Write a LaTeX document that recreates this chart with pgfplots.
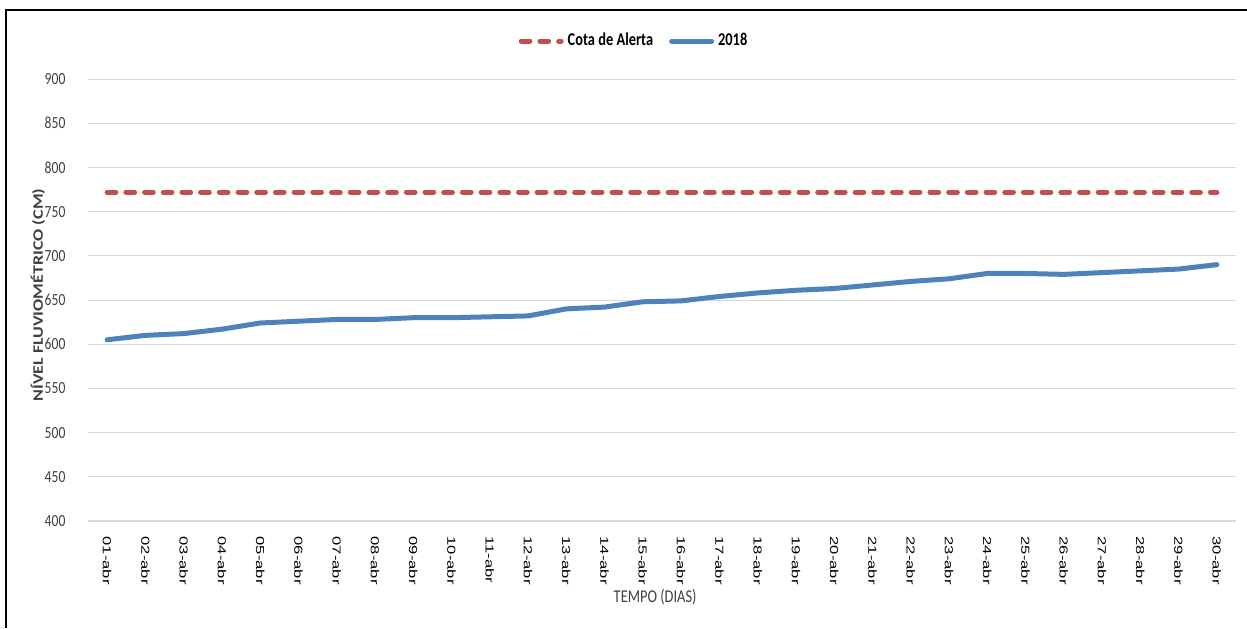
\documentclass[border=0pt]{standalone}
\usepackage{fontspec}
\usepackage{graphicx}
\usepackage{pgfplots}
\pgfplotsset{compat=1.18}
\setmainfont{Carlito}
\newfontfamily\calnarrow[FakeStretch=0.8]{Carlito}
\newfontfamily\tickfont{Liberation Sans}
\definecolor{alertred}{HTML}{C0504D}
\definecolor{lineblue}{HTML}{4F81BD}
\definecolor{gridgray}{HTML}{D9D9D9}
\definecolor{labgray}{HTML}{404040}
\newcommand\xl[1]{\scalebox{1}[0.7]{#1}}
\begin{document}
\begin{tikzpicture}
\useasboundingbox (0,0) rectangle (623.5pt,314pt);
\draw[line width=1pt] (3pt,0) -- (3pt,309pt) -- (623.5pt,309pt);
\begin{axis}[
  at={(44pt,53.5pt)}, anchor=south west,
  width=574pt, height=221pt, scale only axis,
  xmin=-0.5, xmax=29.5, ymin=400, ymax=900,
  ytick={400,450,...,900},
  ymajorgrids, grid style={gridgray, line width=0.5pt},
  axis lines*=left,
  y axis line style={draw=none},
  x axis line style={gridgray, line width=0.6pt},
  ytick style={draw=none},
  xtick={0,...,29},
  xtick style={draw=none},
  minor xtick={-0.5,0.5,...,29.5},
  minor tick length=3pt,
  minor x tick style={gridgray, line width=0.6pt},
  tick align=outside,
  xticklabels={\xl{01-abr},\xl{02-abr},\xl{03-abr},\xl{04-abr},\xl{05-abr},\xl{06-abr},\xl{07-abr},\xl{08-abr},\xl{09-abr},\xl{10-abr},\xl{11-abr},\xl{12-abr},\xl{13-abr},\xl{14-abr},\xl{15-abr},\xl{16-abr},\xl{17-abr},\xl{18-abr},\xl{19-abr},\xl{20-abr},\xl{21-abr},\xl{22-abr},\xl{23-abr},\xl{24-abr},\xl{25-abr},\xl{26-abr},\xl{27-abr},\xl{28-abr},\xl{29-abr},\xl{30-abr}},
  xticklabel style={rotate=-90, anchor=west, font=\tickfont\fontsize{8.3}{10}\selectfont, text=black, yshift=0pt},
  /pgf/number format/assume math mode=true,
  yticklabel style={font=\calnarrow\fontsize{8.5}{10}\selectfont, text=labgray, xshift=-3.5pt},
  xlabel={TEMPO (DIAS)},
  xlabel style={at={(axis description cs:0.494,-0.172)}, anchor=center, font=\calnarrow\fontsize{9}{11}\selectfont, text=labgray},
  ylabel={\scalebox{1}[0.8]{\bfseries NÍVEL FLUVIOMÉTRICO (CM)}},
  ylabel style={at={(axis description cs:-0.0436,0.511)}, anchor=center, rotate=0, font=\fontsize{9}{11}\selectfont, text=labgray},
  legend columns=2,
  legend style={draw=none, fill=none, at={(axis description cs:0.4765,1.086)}, anchor=center, font=\calnarrow\bfseries\fontsize{9}{11}\selectfont, /tikz/every even column/.append style={column sep=6pt}},
  legend image code/.code={\draw[#1] (0pt,0pt) -- (20pt,0pt);},
]
\addplot[alertred, line width=2.5pt, line cap=round, dash pattern=on 4.35pt off 5pt] coordinates {
(0,772) (1,772) (2,772) (3,772) (4,772) (5,772) (6,772) (7,772) (8,772) (9,772)
(10,772) (11,772) (12,772) (13,772) (14,772) (15,772) (16,772) (17,772) (18,772) (19,772)
(20,772) (21,772) (22,772) (23,772) (24,772) (25,772) (26,772) (27,772) (28,772) (29,772)};
\addlegendentry{Cota de Alerta}
\addplot[lineblue, line width=2.5pt, line cap=round, line join=round] coordinates {
(0,605) (1,610) (2,612) (3,617) (4,624) (5,626) (6,628) (7,628) (8,630) (9,630)
(10,631) (11,632) (12,640) (13,642) (14,648) (15,649) (16,654) (17,658) (18,661) (19,663)
(20,667) (21,671) (22,674) (23,680) (24,680) (25,679) (26,681) (27,683) (28,685) (29,690)};
\addlegendentry{2018}
\end{axis}
\end{tikzpicture}
\end{document}
